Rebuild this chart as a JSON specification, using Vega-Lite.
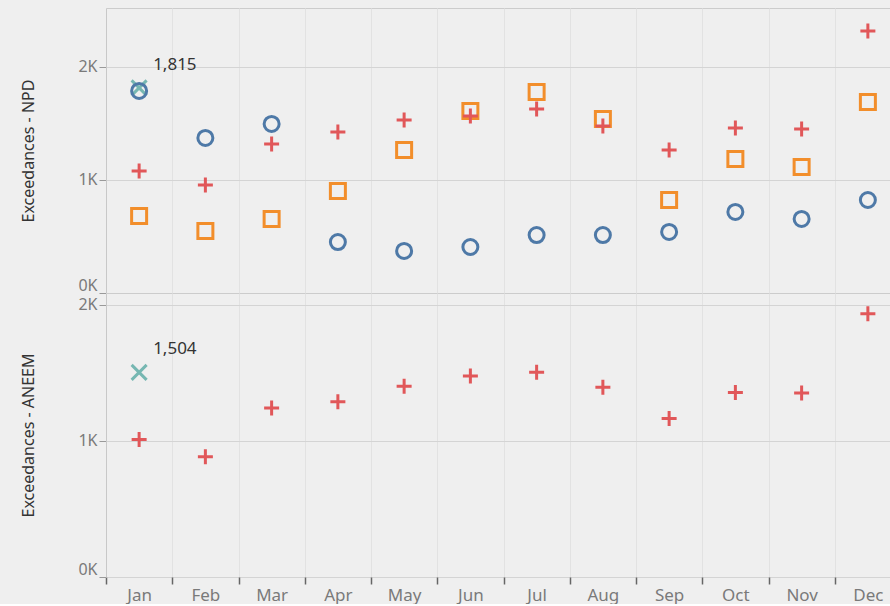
{
  "$schema": "https://vega.github.io/schema/vega-lite/v6.json",
  "background": "#efefef",
  "padding": {"left": 20, "top": 7, "right": 0, "bottom": 0},
  "spacing": 0,
  "bounds": "flush",
  "config": {
    "font": "Noto Sans",
    "view": {"stroke": "#cccccc"},
    "axis": {"labelColor": "#7a7a7a", "labelFontSize": 16, "titleFontSize": 16, "titleFontWeight": "normal", "titleColor": "#333333", "tickColor": "#999999", "domainColor": "#c8c8c8"}
  },
  "datasets": {
    "npd": [
      {"month": "Jan", "series": "X", "value": 1815},
      {"month": "Jan", "series": "Square", "value": 681},
      {"month": "Jan", "series": "Plus", "value": 1080},
      {"month": "Jan", "series": "Circle", "value": 1788},
      {"month": "Feb", "series": "Square", "value": 549},
      {"month": "Feb", "series": "Plus", "value": 956},
      {"month": "Feb", "series": "Circle", "value": 1372},
      {"month": "Mar", "series": "Square", "value": 655},
      {"month": "Mar", "series": "Plus", "value": 1319},
      {"month": "Mar", "series": "Circle", "value": 1496},
      {"month": "Apr", "series": "Square", "value": 903},
      {"month": "Apr", "series": "Plus", "value": 1425},
      {"month": "Apr", "series": "Circle", "value": 451},
      {"month": "May", "series": "Square", "value": 1265},
      {"month": "May", "series": "Plus", "value": 1531},
      {"month": "May", "series": "Circle", "value": 372},
      {"month": "Jun", "series": "Square", "value": 1611},
      {"month": "Jun", "series": "Plus", "value": 1566},
      {"month": "Jun", "series": "Circle", "value": 407},
      {"month": "Jul", "series": "Square", "value": 1779},
      {"month": "Jul", "series": "Plus", "value": 1628},
      {"month": "Jul", "series": "Circle", "value": 513},
      {"month": "Aug", "series": "Square", "value": 1540},
      {"month": "Aug", "series": "Plus", "value": 1478},
      {"month": "Aug", "series": "Circle", "value": 513},
      {"month": "Sep", "series": "Square", "value": 823},
      {"month": "Sep", "series": "Plus", "value": 1265},
      {"month": "Sep", "series": "Circle", "value": 540},
      {"month": "Oct", "series": "Square", "value": 1186},
      {"month": "Oct", "series": "Plus", "value": 1460},
      {"month": "Oct", "series": "Circle", "value": 717},
      {"month": "Nov", "series": "Square", "value": 1115},
      {"month": "Nov", "series": "Plus", "value": 1451},
      {"month": "Nov", "series": "Circle", "value": 655},
      {"month": "Dec", "series": "Square", "value": 1690},
      {"month": "Dec", "series": "Plus", "value": 2319},
      {"month": "Dec", "series": "Circle", "value": 823}
    ],
    "aneem": [
      {"month": "Jan", "series": "X", "value": 1504},
      {"month": "Jan", "series": "Plus", "value": 1010},
      {"month": "Feb", "series": "Plus", "value": 884},
      {"month": "Mar", "series": "Plus", "value": 1243},
      {"month": "Apr", "series": "Plus", "value": 1288},
      {"month": "May", "series": "Plus", "value": 1403},
      {"month": "Jun", "series": "Plus", "value": 1478},
      {"month": "Jul", "series": "Plus", "value": 1505},
      {"month": "Aug", "series": "Plus", "value": 1395},
      {"month": "Sep", "series": "Plus", "value": 1166},
      {"month": "Oct", "series": "Plus", "value": 1357},
      {"month": "Nov", "series": "Plus", "value": 1352},
      {"month": "Dec", "series": "Plus", "value": 1935}
    ]
  },
  "vconcat": [
    {
      "width": 795,
      "height": 285,
      "data": {"name": "npd"},
      "encoding": {
        "x": {"field": "month", "type": "nominal", "sort": ["Jan","Feb","Mar","Apr","May","Jun","Jul","Aug","Sep","Oct","Nov","Dec"],
              "scale": {"paddingInner": 0, "paddingOuter": 0},
              "axis": {"labels": false, "ticks": false, "domain": false, "title": null, "grid": true, "tickBand": "extent", "gridColor": "#e2e2e2"}},
        "y": {"field": "value", "type": "quantitative", "scale": {"domain": [0, 2522], "nice": false},
              "axis": {"title": "Exceedances - NPD", "values": [0, 1000, 2000], "labelExpr": "datum.value / 1000 + 'K'", "tickSize": 7, "labelPadding": 2, "labelFlush": true, "titlePadding": 41, "gridColor": "#d4d4d4"}}
      },
      "layer": [
        {
          "mark": {"type": "point", "filled": false, "strokeWidth": 3, "opacity": 1},
          "encoding": {
            "shape": {"field": "series", "type": "nominal", "legend": null,
                      "scale": {"domain": ["Circle","Square","Plus","X"], "range": ["circle","square","M-1,0L1,0M0,-1L0,1","M-1,-1L1,1M-1,1L1,-1"]}},
            "color": {"field": "series", "type": "nominal", "legend": null,
                      "scale": {"domain": ["Circle","Square","Plus","X"], "range": ["#4e79a7","#f28e2b","#e15759","#76b7b2"]}},
            "size": {"field": "series", "type": "nominal", "legend": null,
                     "scale": {"domain": ["Circle","Square","Plus","X"], "range": [225, 225, 324, 240]}}
          }
        },
        {
          "transform": [{"filter": "datum.series === 'X'"}],
          "mark": {"type": "text", "align": "left", "baseline": "middle", "dx": 14, "dy": -23, "fontSize": 17, "color": "#333333"},
          "encoding": {"text": {"field": "value", "type": "quantitative", "format": ",.0f"}}
        }
      ]
    },
    {
      "width": 795,
      "height": 284,
      "data": {"name": "aneem"},
      "encoding": {
        "x": {"field": "month", "type": "nominal", "sort": ["Jan","Feb","Mar","Apr","May","Jun","Jul","Aug","Sep","Oct","Nov","Dec"],
              "scale": {"paddingInner": 0, "paddingOuter": 0},
              "axis": {"domain": false, "title": null, "grid": true, "tickBand": "extent", "gridColor": "#e2e2e2", "tickSize": 7, "tickColor": "#666666", "tickWidth": 1.5, "labelAngle": 0, "labelPadding": 3, "labelFontSize": 17}},
        "y": {"field": "value", "type": "quantitative", "scale": {"domain": [0, 2088], "nice": false},
              "axis": {"title": "Exceedances - ANEEM", "values": [0, 1000, 2000], "labelExpr": "datum.value / 1000 + 'K'", "tickSize": 7, "labelPadding": 2, "labelFlush": true, "titlePadding": 41, "gridColor": "#d4d4d4"}}
      },
      "layer": [
        {
          "mark": {"type": "point", "filled": false, "strokeWidth": 3, "opacity": 1},
          "encoding": {
            "shape": {"field": "series", "type": "nominal", "legend": null,
                      "scale": {"domain": ["Circle","Square","Plus","X"], "range": ["circle","square","M-1,0L1,0M0,-1L0,1","M-1,-1L1,1M-1,1L1,-1"]}},
            "color": {"field": "series", "type": "nominal", "legend": null,
                      "scale": {"domain": ["Circle","Square","Plus","X"], "range": ["#4e79a7","#f28e2b","#e15759","#76b7b2"]}},
            "size": {"field": "series", "type": "nominal", "legend": null,
                     "scale": {"domain": ["Circle","Square","Plus","X"], "range": [225, 225, 324, 240]}}
          }
        },
        {
          "transform": [{"filter": "datum.series === 'X'"}],
          "mark": {"type": "text", "align": "left", "baseline": "middle", "dx": 14, "dy": -23, "fontSize": 17, "color": "#333333"},
          "encoding": {"text": {"field": "value", "type": "quantitative", "format": ",.0f"}}
        }
      ]
    }
  ],
  "resolve": {"scale": {"shape": "independent", "color": "independent", "size": "independent"}}
}
